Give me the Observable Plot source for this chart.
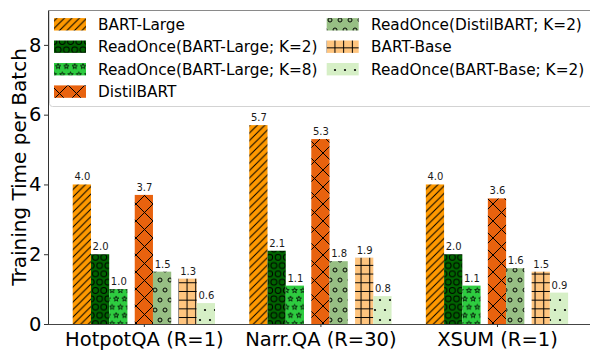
<!DOCTYPE html>
<html><head><meta charset="utf-8">
<script src="https://cdn.jsdelivr.net/npm/d3@7"></script>
<script src="https://cdn.jsdelivr.net/npm/@observablehq/plot@0.6"></script>
<style>html,body{margin:0;padding:0;background:#fff;overflow:hidden} svg{display:block}</style>
</head><body><div id="chart"></div>
<script>
// ---- data ----
const datasets = ["HotpotQA (R=1)", "Narr.QA (R=30)", "XSUM (R=1)"];
const models = ["BART-Large", "ReadOnce(BART-Large; K=2)", "ReadOnce(BART-Large; K=8)", "DistilBART",
                "ReadOnce(DistilBART; K=2)", "BART-Base", "ReadOnce(BART-Base; K=2)"];
const hotpotqa = [4.0, 2.0, 1.0, 3.7, 1.5, 1.3, 0.6];
const narrqa   = [5.7, 2.1, 1.1, 5.3, 1.8, 1.9, 0.8];
const xsum     = [4.0, 2.0, 1.1, 3.6, 1.6, 1.5, 0.9];
const yTicks = [0, 2, 4, 6, 8];

// ---- style / layout ----
const colors  = ["#ff9900", "#006400", "#2ecc40", "#e8620e", "#97bf84", "#ffc57f", "#d6efc6"];
const hatches = ["//", "O", "*", "x", "o", "+", "."];
const offsets = [-3.4, -2.4, -1.4, 0, 1, 2.4, 3.4];   // bar centres within a group, in bar widths
const groupStep = 9.68;
const yMax = 9;
const xDomain = [-5.255, 24.46];
const FONT = "DejaVu Sans";

const series = [hotpotqa, narrqa, xsum];
const rows = [];
series.forEach((vals, g) => vals.forEach((v, k) => rows.push({
  group: datasets[g], model: models[k], value: v,
  x: g * groupStep + offsets[k], pattern: `url(#hatch${k})`
})));

const plot = Plot.plot({
  width: 590, height: 351,
  marginLeft: 48, marginRight: 0, marginTop: 10, marginBottom: 27,
  style: {fontFamily: FONT, background: "white", color: "black", overflow: "hidden"},
  x: {type: "linear", domain: xDomain, range: [48, 590]},
  y: {domain: [0, yMax]},
  color: {type: "identity"},
  marks: [
    Plot.rectY(rows, {x1: d => d.x - 0.5, x2: d => d.x + 0.5, y1: 0, y2: "value", fill: "pattern"}),
    Plot.text(rows, {x: "x", y: "value", text: d => d.value.toFixed(1), lineAnchor: "bottom", dy: -4.5,
                     fontSize: 10, fill: "#1a1a1a"}),
    Plot.ruleY([0], {stroke: "#444"}),
    Plot.ruleX([xDomain[0]], {stroke: "#333"}),
    Plot.axisY({ticks: yTicks, tickSize: 4, tickPadding: 3, fontSize: 19.5, label: null, stroke: "#333", fill: "black"}),
    Plot.axisX({ticks: datasets.map((_, g) => g * groupStep), tickFormat: d => datasets[Math.round(d / groupStep)],
                tickSize: 3, tickPadding: 5, fontSize: 19.5, label: null, stroke: "#333", fill: "black"})
  ]
});
document.getElementById("chart").appendChild(plot);

const svg = d3.select(plot);
const defs = svg.insert("defs", ":first-child");

function starPath(cx, cy, R) {
  const r = R * 0.4; let s = "";
  for (let i = 0; i < 10; i++) {
    const a = -Math.PI / 2 + i * Math.PI / 5, rr = i % 2 ? r : R;
    s += (i ? "L" : "M") + (cx + rr * Math.cos(a)).toFixed(2) + "," + (cy + rr * Math.sin(a)).toFixed(2);
  }
  return s + "Z";
}
function makePattern(k) {
  const color = colors[k], h = hatches[k];
  const pat = defs.append("pattern").attr("id", "hatch" + k).attr("patternUnits", "userSpaceOnUse");
  const ink = "#000";
  if (h === "//" || h === "x") {
    const s = h === "//" ? 7.5 : 17;
    pat.attr("width", s).attr("height", s);
    pat.append("rect").attr("width", s).attr("height", s).attr("fill", color);
    let d = `M0,${s}L${s},0M-1,1L1,-1M${s-1},${s+1}L${s+1},${s-1}`;
    if (h === "x") d += `M0,0L${s},${s}M${s-1},-1L${s+1},1M-1,${s-1}L1,${s+1}`;
    pat.append("path").attr("d", d).attr("stroke", ink).attr("stroke-width", 1).attr("fill", "none");
  } else if (h === "+") {
    const p = 8.7;
    pat.attr("width", p).attr("height", p);
    pat.append("rect").attr("width", p).attr("height", p).attr("fill", color);
    pat.append("path").attr("d", `M${p/2},0V${p}M0,${p/2}H${p}`).attr("stroke", ink).attr("stroke-width", 1);
  } else {
    const p = h === "O" || h === "*" ? 8.3 : 10;
    pat.attr("width", p).attr("height", 2 * p);
    pat.append("rect").attr("width", p).attr("height", 2 * p).attr("fill", color);
    const pts = [[0, 0], [p, 0], [0, 2 * p], [p, 2 * p], [p / 2, p]];
    pts.forEach(([cx, cy]) => {
      if (h === "O") pat.append("circle").attr("cx", cx).attr("cy", cy).attr("r", 0.35 * p).attr("fill", "none").attr("stroke", ink).attr("stroke-width", 1);
      else if (h === "o") pat.append("circle").attr("cx", cx).attr("cy", cy).attr("r", 0.2 * p).attr("fill", "none").attr("stroke", ink).attr("stroke-width", 1);
      else if (h === ".") pat.append("circle").attr("cx", cx).attr("cy", cy).attr("r", 0.11 * p).attr("fill", ink);
      else if (h === "*") pat.append("path").attr("d", starPath(cx, cy, p / 3)).attr("fill", "none").attr("stroke", ink).attr("stroke-width", 0.8);
    });
  }
}
models.forEach((_, k) => makePattern(k));

// top spine
svg.append("line").attr("x1", 48).attr("x2", 590).attr("y1", 10.5).attr("y2", 10.5).attr("stroke", "#8a8a8a");

// legend
const lg = svg.append("g").attr("font-family", FONT).attr("font-size", 15.3).attr("text-anchor", "start");
lg.append("rect").attr("x", 49.5).attr("y", 11).attr("width", 560).attr("height", 95.5).attr("fill", "white").attr("fill-opacity", 0.8);
lg.append("path").attr("d", "M49.5,11V103.5Q49.5,106.5 52.5,106.5H600").attr("fill", "none").attr("stroke", "#d3d3d3");
const rowY = [24.3, 46.7, 69.2, 91.6];
models.forEach((m, k) => {
  const col = k < 4 ? 0 : 1, r = k < 4 ? k : k - 4;
  const sx = col ? 326.7 : 54, tx = col ? 371 : 98, cy = rowY[r];
  lg.append("rect").attr("x", sx).attr("y", cy - 6.2).attr("width", 32).attr("height", 12.4).attr("fill", `url(#hatch${k})`);
  lg.append("text").attr("x", tx).attr("y", cy + 5.3).attr("fill", "black").attr("text-anchor", "start").text(m);
});

// y label
svg.append("text").attr("transform", "translate(19,167) rotate(-90)").attr("text-anchor", "middle")
  .attr("dominant-baseline", "central").attr("font-family", FONT).attr("font-size", 20).attr("fill", "black")
  .text("Training Time per Batch");
</script>
</body></html>
